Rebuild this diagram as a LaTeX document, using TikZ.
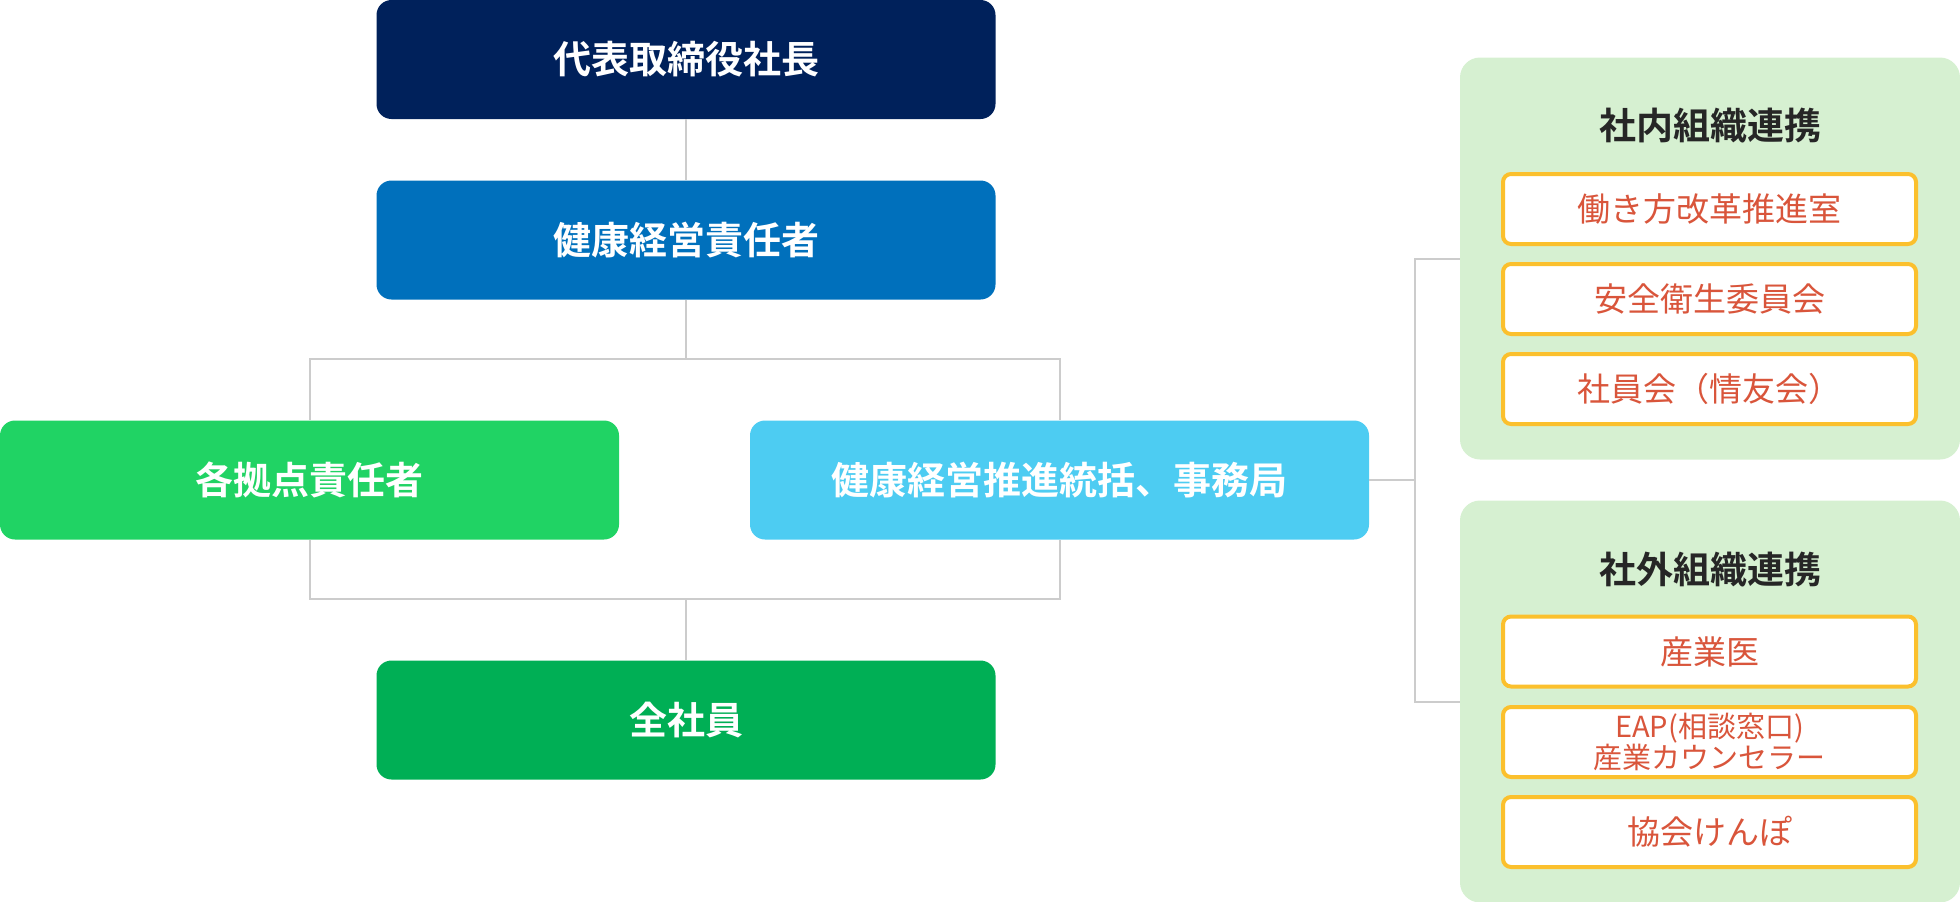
\documentclass[tikz,border=0pt]{standalone}
\usepackage{fontspec}
\setmainfont{Noto Sans CJK JP}[BoldFont={Noto Sans CJK JP Bold}]
\usepackage{tikz}

\definecolor{navy}{HTML}{00215B}
\definecolor{midblue}{HTML}{0070BC}
\definecolor{lightgreen}{HTML}{20D364}
\definecolor{skyblue}{HTML}{4DCCF2}
\definecolor{darkgreen}{HTML}{00AF55}
\definecolor{panelgreen}{HTML}{D6F0D1}
\definecolor{framegold}{HTML}{FBC02D}
\definecolor{itemred}{HTML}{D9553B}
\definecolor{linegray}{HTML}{CCCCCC}

\begin{document}
\begin{tikzpicture}[x=1pt,y=-1pt,
    box/.style={rounded corners=15pt, minimum width=619pt, minimum height=119pt, inner sep=0pt,
      text=white, font=\fontsize{38}{44}\selectfont\bfseries},
    panel/.style={fill=panelgreen, rounded corners=20pt, minimum width=500pt, minimum height=402pt, inner sep=0pt},
    title/.style={text=black!85, font=\fontsize{37}{44}\selectfont\bfseries},
    item/.style={draw=framegold, line width=4pt, fill=white, rounded corners=8pt,
      minimum width=413pt, minimum height=70pt, inner sep=0pt, align=center,
      text=itemred, font=\fontsize{33}{38}\selectfont},
    link/.style={draw=linegray, line width=2pt}]
    \useasboundingbox (0,0) rectangle (1960,902);

    % Nodes
    \node[box, fill=navy] (CEO) at (686,59.5) {代表取締役社長};
    \node[box, fill=midblue] (HM) at (686,240) {健康経営責任者};
    \node[box, fill=lightgreen] (BR) at (309.5,480) {各拠点責任者};
    \node[box, fill=skyblue] (HQ) at (1059.5,480) {健康経営推進統括、事務局};
    \node[box, fill=darkgreen] (ALL) at (686,720) {全社員};

    \node[panel] (IN) at (1710,258.5) {};
    \node[title] (INT) at (1710,126) {社内組織連携};
    \node[item] (IN1) at (1709.5,209) {働き方改革推進室};
    \node[item] (IN2) at (1709.5,299) {安全衛生委員会};
    \node[item] (IN3) at (1709.5,389) {社員会（情友会）};

    \node[panel] (OUT) at (1710,701.5) {};
    \node[title] (OUTT) at (1710,570) {社外組織連携};
    \node[item] (OUT1) at (1709.5,651.5) {産業医};
    \node[item, font=\fontsize{29}{31}\selectfont] (OUT2) at (1709.5,742) {EAP(相談窓口)\\産業カウンセラー};
    \node[item] (OUT3) at (1709.5,832) {協会けんぽ};

    \coordinate (J1) at (686,359);
    \coordinate (J2) at (686,599);
    \coordinate (J3) at (1415,480);

    % Lines
    \draw[link] (CEO) -- (HM);
    \draw[link] (HM) -- (J1);
    \draw[link] (BR) |- (J1) -| (HQ);
    \draw[link] (BR) |- (J2) -| (HQ);
    \draw[link] (J2) -- (ALL);
    \draw[link] (HQ) -- (J3);
    \draw[link] (IN) -| (J3) |- (OUT);
\end{tikzpicture}
\end{document}
